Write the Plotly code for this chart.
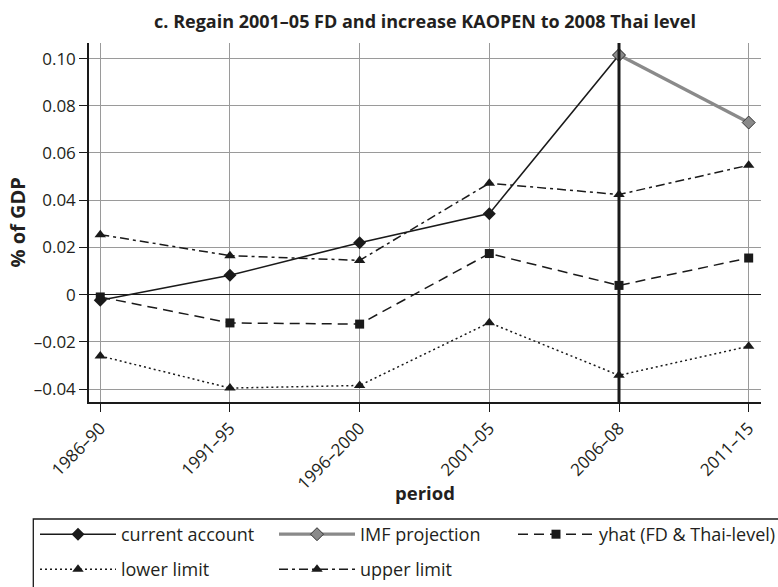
import plotly.graph_objects as go

periods = ["1986–90", "1991–95", "1996–2000", "2001–05", "2006–08", "2011–15"]
current_account = [-0.0024, 0.0082, 0.0220, 0.0343, 0.1015, None]
imf_projection = [None, None, None, None, 0.1015, 0.0729]
yhat = [-0.0010, -0.0120, -0.0125, 0.0174, 0.0039, 0.0155]
lower_limit = [-0.0260, -0.0396, -0.0385, -0.0119, -0.0342, -0.0219]
upper_limit = [0.0254, 0.0165, 0.0145, 0.0472, 0.0424, 0.0548]

y_tickvals = [-0.04, -0.02, 0, 0.02, 0.04, 0.06, 0.08, 0.10]
y_ticktext = ["–0.04", "–0.02", "0", "0.02", "0.04", "0.06", "0.08", "0.10"]

TXT = "#231f20"
FONT = "Open Sans"
L, R, T, B = 89, 17, 43, 185
PW, PH = 778 - L - R, 587 - T - B


def px_x(px):
    return (px - L) / PW


def px_y(py):
    return (587 - B - py) / PH


fig = go.Figure()
fig.add_trace(go.Scatter(
    x=periods, y=current_account, name="current account", mode="lines+markers",
    line=dict(color="#1a1a1a", width=1.6),
    marker=dict(symbol="diamond", size=10, color="#1a1a1a"),
    legend="legend", legendwidth=148,
))
fig.add_trace(go.Scatter(
    x=periods, y=imf_projection, name="IMF projection", mode="lines+markers",
    line=dict(color="#8a8a8a", width=3.2),
    marker=dict(symbol="diamond", size=10, color="#8a8a8a", line=dict(color="#333333", width=1)),
    legend="legend", legendwidth=148,
))
fig.add_trace(go.Scatter(
    x=periods, y=yhat, name="yhat (FD & Thai-level)", mode="lines+markers",
    line=dict(color="#1a1a1a", width=1.5, dash="10px,6px"),
    marker=dict(symbol="square", size=9, color="#1a1a1a"),
    legend="legend", legendwidth=185,
))
fig.add_trace(go.Scatter(
    x=periods, y=lower_limit, name="lower limit", mode="lines+markers",
    line=dict(color="#1a1a1a", width=1.5, dash="2px,3px"),
    marker=dict(symbol="triangle-up", size=10, color="#1a1a1a"),
    legend="legend2", legendwidth=148,
))
fig.add_trace(go.Scatter(
    x=periods, y=upper_limit, name="upper limit", mode="lines+markers",
    line=dict(color="#1a1a1a", width=1.5, dash="9px,4px,3px,4px"),
    marker=dict(symbol="triangle-up", size=10, color="#1a1a1a"),
    legend="legend2", legendwidth=148,
))

# vertical marker line at 2006–08
fig.add_shape(type="line", xref="x", yref="paper", x0=4, x1=4, y0=0, y1=1,
              line=dict(color="#1a1a1a", width=3), layer="above")
# legend frame
fig.add_shape(type="rect", xref="paper", yref="paper",
              x0=px_x(33.3), x1=px_x(800), y0=px_y(519), y1=px_y(620),
              line=dict(color="#1a1a1a", width=1.3), fillcolor="rgba(0,0,0,0)")

legend_common = dict(orientation="h", xanchor="left", yanchor="top",
                     itemwidth=76, font=dict(size=18, family=FONT, color=TXT),
                     bgcolor="rgba(0,0,0,0)", borderwidth=0, traceorder="normal")

fig.update_layout(
    width=778, height=587,
    margin=dict(l=L, r=R, t=T, b=B, autoexpand=False),
    paper_bgcolor="white", plot_bgcolor="white",
    font=dict(family=FONT, color=TXT, size=17),
    title=dict(text="<b>c. Regain 2001–05 FD and increase KAOPEN to 2008 Thai level</b>",
               x=(L + PW / 2) / 778, xanchor="center", y=1 - 22 / 587, yanchor="middle",
               font=dict(size=18, family=FONT, color=TXT)),
    showlegend=True,
    legend=dict(x=px_x(35), y=px_y(516), **legend_common),
    legend2=dict(x=px_x(35), y=px_y(551), **legend_common),
    annotations=[
        dict(text="<b>period</b>", xref="paper", yref="paper", x=0.5,
             y=px_y(492), xanchor="center", yanchor="middle",
             showarrow=False, font=dict(size=18.5, family=FONT, color=TXT)),
        dict(text="<b>% of GDP</b>", xref="paper", yref="paper",
             x=px_x(17), y=px_y(222.5), xanchor="center", yanchor="middle",
             textangle=-90, showarrow=False, font=dict(size=20, family=FONT, color=TXT)),
    ],
)
fig.update_xaxes(
    type="category", range=[-0.087, 5.095], tickangle=-45, automargin=False,
    showgrid=True, gridcolor="#9a9a9a", gridwidth=1,
    showline=True, linecolor="#1a1a1a", linewidth=1.5,
    ticks="outside", ticklen=8, tickcolor="#1a1a1a", tickwidth=1.2,
    tickfont=dict(size=17, family=FONT, color=TXT),
)
fig.update_yaxes(
    range=[-0.0455, 0.1066], tickvals=y_tickvals, ticktext=y_ticktext, automargin=False,
    showgrid=True, gridcolor="#9a9a9a", gridwidth=1,
    showline=True, linecolor="#1a1a1a", linewidth=1.5,
    zeroline=True, zerolinecolor="#1a1a1a", zerolinewidth=1.4,
    ticks="outside", ticklen=8, tickcolor="#1a1a1a", tickwidth=1.2,
    tickfont=dict(size=17, family=FONT, color=TXT),
)

fig.write_html("out.html")
